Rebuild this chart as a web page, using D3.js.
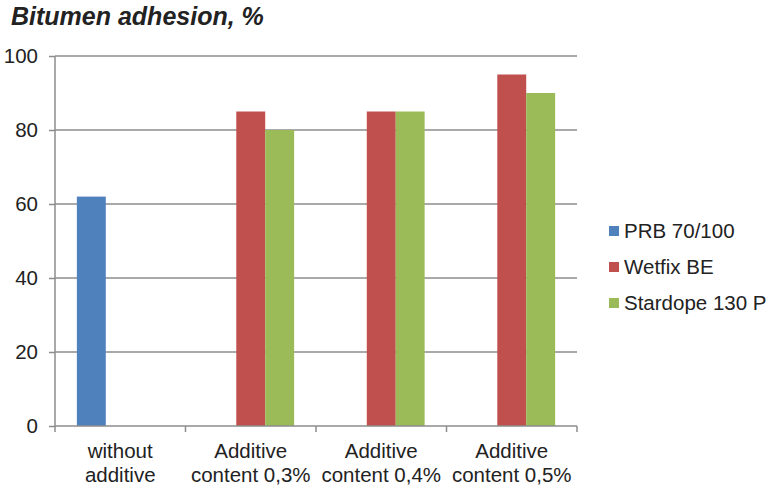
<!DOCTYPE html>
<html><head><meta charset="utf-8">
<script src="https://cdn.jsdelivr.net/npm/d3@7"></script>
<style>body{margin:0;background:#fff}svg{display:block;font-family:"Liberation Sans",Arial,sans-serif}</style>
</head><body><svg id="c" width="774" height="492"></svg>
<script>
const categories = [["without","additive"],["Additive","content 0,3%"],["Additive","content 0,4%"],["Additive","content 0,5%"]];
const seriesNames = ["PRB 70/100","Wetfix BE","Stardope 130 P"];
const prb = [62, null, null, null];
const wetfix = [null, 85, 85, 95];
const stardope = [null, 80, 85, 90];
const yTicks = [0,20,40,60,80,100];
const colors = ["#4F81BD","#C0504D","#9BBB59"];
const title = "Bitumen adhesion, %";

const svg = d3.select("#c");
const L=55,R=577,T=56,B=426;
const FS=20.5;
const x = d3.scaleBand().domain(d3.range(categories.length)).range([L,R]).padding(0);
const xs = d3.scaleBand().domain(d3.range(3)).range([x.bandwidth()*0.1675, x.bandwidth()*(1-0.1675)]).padding(0);
const y = d3.scaleLinear().domain([0,100]).range([B,T]);

// gridlines
svg.append("g").selectAll("line").data(yTicks.filter(d=>d>0)).join("line")
  .attr("x1",L).attr("x2",R).attr("y1",d=>y(d)).attr("y2",d=>y(d))
  .attr("stroke","#8c8c8c").attr("stroke-width",1.5);

// bars
const series=[prb,wetfix,stardope];
series.forEach((s,si)=>{
  svg.append("g").selectAll("rect").data(s.map((v,i)=>({v,i})).filter(d=>d.v!=null)).join("rect")
    .attr("x",d=>x(d.i)+xs(si)).attr("width",xs.bandwidth())
    .attr("y",d=>y(d.v)).attr("height",d=>B-y(d.v)).attr("fill",colors[si]);
});

// y axis
const ya = svg.append("g").attr("transform",`translate(${L},0)`)
  .call(d3.axisLeft(y).tickValues(yTicks).tickSize(6).tickPadding(11));
ya.select(".domain").attr("stroke","#8c8c8c").attr("stroke-width",1.5).attr("d",`M0,${T}V${B}`);
ya.selectAll(".tick line").attr("stroke","#8c8c8c").attr("stroke-width",1.5);
ya.selectAll("text").attr("font-size",FS).attr("fill","#222");

// x axis
const xa = svg.append("g").attr("transform",`translate(0,${B})`);
xa.append("line").attr("x1",L).attr("x2",R).attr("stroke","#8c8c8c").attr("stroke-width",1.5);
xa.selectAll(".t").data(d3.range(categories.length+1)).join("line")
  .attr("x1",i=>i<categories.length?x(i):R).attr("x2",i=>i<categories.length?x(i):R)
  .attr("y1",0).attr("y2",6).attr("stroke","#8c8c8c").attr("stroke-width",1.5);
xa.selectAll("text").data(categories).join("text")
  .attr("x",(d,i)=>x(i)+x.bandwidth()/2).attr("text-anchor","middle")
  .attr("font-size",FS).attr("fill","#222")
  .each(function(d){
    const t=d3.select(this);
    d.forEach((ln,k)=>t.append("tspan").attr("x",t.attr("x")).attr("y",k===0?32:56).text(ln));
  });

// title
svg.append("text").attr("x",11).attr("y",25).attr("font-size",25).attr("font-weight","bold")
  .attr("font-style","italic").attr("fill","#222").text(title);

// legend
const lg = svg.append("g").selectAll("g").data(seriesNames).join("g")
  .attr("transform",(d,i)=>`translate(609,${231+i*36})`);
lg.append("rect").attr("x",0).attr("y",-5).attr("width",10).attr("height",10).attr("fill",(d,i)=>colors[i]);
lg.append("text").attr("x",15).attr("y",7).attr("font-size",FS).attr("fill","#222").text(d=>d);
</script></body></html>
